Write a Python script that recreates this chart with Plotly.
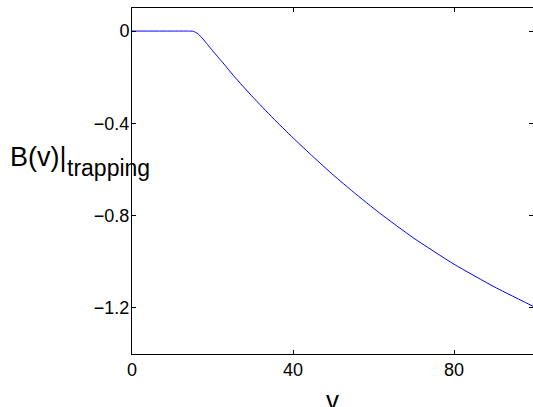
import plotly.graph_objects as go

v_values = [0, 10, 14, 15.2, 16.4, 17.6, 18.8, 20.1, 22.6, 25.5, 30, 35, 40, 45, 50, 55,
            61.5, 70, 80, 90, 99.6]
b_values = [0, 0, 0, -0.001, -0.012, -0.034, -0.059, -0.087, -0.138, -0.199, -0.286, -0.377,
            -0.463, -0.545, -0.624, -0.698, -0.789, -0.898, -1.011, -1.109, -1.193]

x_ticks = [0, 40, 80]
y_ticks = [0, -0.4, -0.8, -1.2]
y_ticktext = ["0", "\u22120.4", "\u22120.8", "\u22121.2"]

FONT = "Arial, Liberation Sans, Helvetica, sans-serif"

fig = go.Figure()
fig.add_trace(go.Scatter(x=v_values, y=b_values, mode="lines",
                         line=dict(color="#0000ff", width=1, shape="spline", smoothing=0.5),
                         showlegend=False, hoverinfo="skip"))

axis_common = dict(showline=True, linecolor="black", linewidth=1, mirror="ticks",
                   ticks="inside", ticklen=4, tickcolor="black", showgrid=False,
                   zeroline=False, tickfont=dict(family=FONT, size=18, color="black"))

fig.update_xaxes(range=[0, 99.6], tickvals=x_ticks, ticklabelstandoff=-1, **axis_common)
fig.update_yaxes(range=[-1.4, 0.1], tickvals=y_ticks, ticktext=y_ticktext,
                 ticklabelstandoff=-2, **axis_common)

fig.add_annotation(text="B(v)|", xref="paper", yref="paper",
                   x=-0.309, y=0.568, xanchor="left", yanchor="middle", showarrow=False,
                   font=dict(family=FONT, size=27, color="black"))
fig.add_annotation(text="trapping", xref="paper", yref="paper",
                   x=-0.166, y=0.537, xanchor="left", yanchor="middle", showarrow=False,
                   font=dict(family=FONT, size=23, color="black"))
fig.add_annotation(text="v", xref="paper", yref="paper",
                   x=0.5, y=-0.133, xanchor="center", yanchor="middle", showarrow=False,
                   font=dict(family=FONT, size=26, color="black"))

fig.update_layout(width=533, height=407, margin=dict(l=132, r=0, t=8, b=53),
                  paper_bgcolor="white", plot_bgcolor="white")

fig.write_html("out.html", config={"displayModeBar": False},
               post_script="document.body.style.margin='0';document.body.style.overflow='hidden';")
